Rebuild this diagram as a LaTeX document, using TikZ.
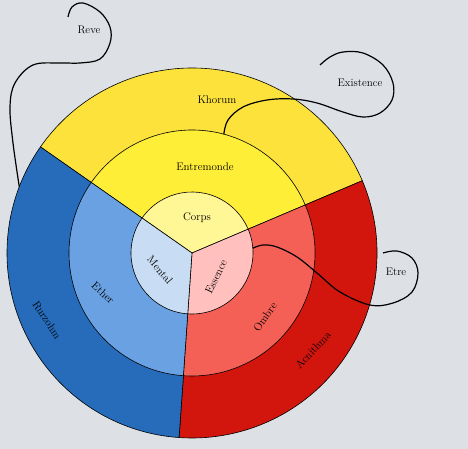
\documentclass[tikz,border=0pt]{standalone}
\usepackage{tikz}
\usetikzlibrary{calc}
\newcommand{\zone}[5]{\filldraw[#1] (c) -- +(#2:#4) arc[start angle=#2, end angle=#3, radius=#4] -- cycle;}
\tikzstyle{wall} = [line width=0.6pt, draw=black]
\tikzstyle{ykh} = [fill=ykhorum, wall]
\tikzstyle{yen} = [fill=yentre, wall]
\tikzstyle{yco} = [fill=ycorps, wall]
\tikzstyle{bru} = [fill=bruz, wall]
\tikzstyle{bet} = [fill=bether, wall]
\tikzstyle{bme} = [fill=bmental, wall]
\tikzstyle{rac} = [fill=racni, wall]
\tikzstyle{rom} = [fill=rombre, wall]
\tikzstyle{res} = [fill=ressence, wall]
\tikzstyle{lbl} = [font=\fontsize{11}{13}\selectfont, inner sep=1pt]
\tikzstyle{link} = [line width=1.2pt, draw=black]
\definecolor{bg}{RGB}{221,225,230}
\definecolor{ykhorum}{RGB}{252,226,58}
\definecolor{yentre}{RGB}{255,238,55}
\definecolor{ycorps}{RGB}{255,246,150}
\definecolor{bruz}{RGB}{38,108,186}
\definecolor{bether}{RGB}{106,161,226}
\definecolor{bmental}{RGB}{200,221,243}
\definecolor{racni}{RGB}{210,22,14}
\definecolor{rombre}{RGB}{244,96,86}
\definecolor{ressence}{RGB}{255,192,190}

\begin{document}
\begin{tikzpicture}[x=1pt, y=-1pt]
	\fill[bg] (0,0) rectangle (468,449);
	\useasboundingbox (0,0) rectangle (468,449);
	\coordinate (c) at (192,253);

	% outer ring
	\zone{ykh}{215}{337}{185}{}
	\zone{rac}{-23}{94}{185}{}
	\zone{bru}{94}{215}{185}{}
	% middle ring
	\zone{yen}{215}{337}{123}{}
	\zone{rom}{-23}{94}{123}{}
	\zone{bet}{94}{215}{123}{}
	% inner ring
	\zone{yco}{215}{337}{61}{}
	\zone{res}{-23}{94}{61}{}
	\zone{bme}{94}{215}{61}{}

	\node[lbl] (khorum) at (217,100) {Khorum};
	\node[lbl] (entremonde) at (205,167) {Entremonde};
	\node[lbl] (corps) at (197,218) {Corps};
	\node[lbl, rotate=-50] (mental) at (160,270) {Mental};
	\node[lbl, rotate=64] (essence) at (216,277) {Essence};
	\node[lbl, rotate=-43] (ether) at (103,293) {Ether};
	\node[lbl, rotate=-57] (rurzohm) at (47,320) {Rurzohm};
	\node[lbl, rotate=55] (ombre) at (265,317) {Ombre};
	\node[lbl, rotate=47] (acnithma) at (313,350) {Acnithma};

	\node[lbl] (reve) at (89,30) {Reve};
	\node[lbl] (existence) at (360,83) {Existence};
	\node[lbl] (etre) at (396,272) {Etre};

	\coordinate (reveA) at ($(c)+(201:185)$);
	\coordinate (reveB) at (68,17);
	\coordinate (existA) at ($(c)+(285:123)$);
	\coordinate (existB) at (320,65);
	\coordinate (etreA) at ($(c)+(355.5:61)$);
	\coordinate (etreB) at (383,253);

	\draw[link] plot[smooth, tension=0.6] coordinates {(reveA) (13,143) (10,107) (15,83) (33,65) (60,63) (80,63) (100,59) (110,43) (110,27) (100,12) (83,3) (72,7) (reveB)};
	\draw[link] plot[smooth, tension=0.6] coordinates {(existA) (228,120) (243,107) (267,100) (293,99) (317,103) (343,112) (363,117) (380,113) (392,100) (393,83) (383,65) (363,53) (343,52) (330,57) (existB)};
	\draw[link] plot[smooth, tension=0.6] coordinates {(etreA) (263,245) (277,247) (297,257) (317,273) (340,292) (370,305) (393,303) (412,292) (418,273) (412,258) (397,251) (etreB)};
\end{tikzpicture}
\end{document}
